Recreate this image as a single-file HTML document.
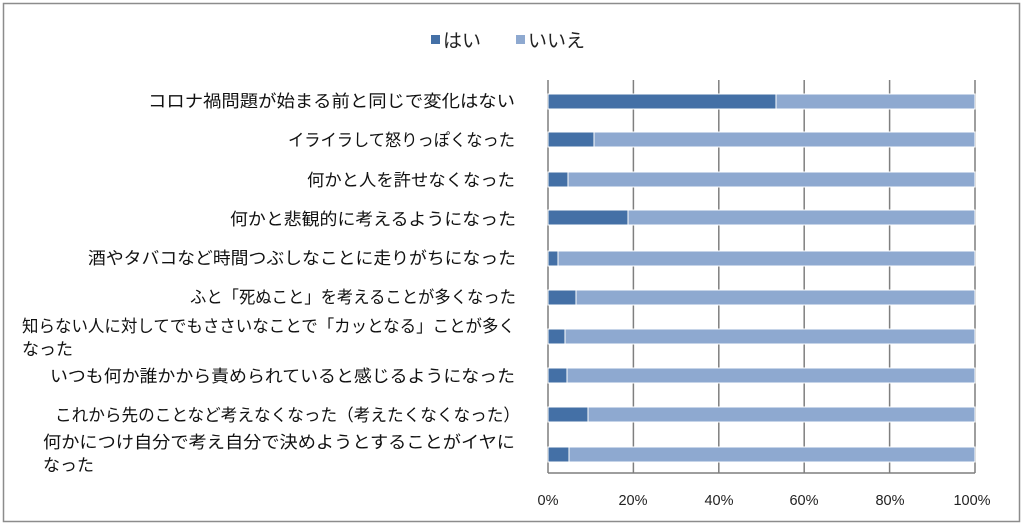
<!DOCTYPE html>
<html><head><meta charset="utf-8"><style>
body{margin:0;background:#fff;width:1024px;height:527px;overflow:hidden;font-family:"Liberation Sans","Noto Sans CJK JP",sans-serif;}
</style></head><body>
<svg width="1024" height="527" xmlns="http://www.w3.org/2000/svg" font-family="Liberation Sans, Noto Sans CJK JP, sans-serif">
<rect x="3.5" y="3.5" width="1016" height="518" fill="#fff" stroke="#8c8c8c" stroke-width="1.5"/>
<rect x="431" y="35" width="9" height="9" fill="#4470a6"/>
<text x="443" y="47" font-size="19" fill="#222">はい</text>
<rect x="516" y="35" width="9" height="9" fill="#8ea9d0"/>
<text x="528" y="47" font-size="19" fill="#222">いいえ</text>
<g stroke="#7f7f7f" stroke-width="1.5">
<line x1="548" y1="80" x2="548" y2="473"/>
<line x1="633.4" y1="80" x2="633.4" y2="473"/>
<line x1="718.8" y1="80" x2="718.8" y2="473"/>
<line x1="804.2" y1="80" x2="804.2" y2="473"/>
<line x1="889.6" y1="80" x2="889.6" y2="473"/>
<line x1="975" y1="80" x2="975" y2="473"/>
<line x1="548" y1="473" x2="975" y2="473"/>
</g>
<g font-size="17" fill="#111">
<text x="148" y="107" textLength="367" lengthAdjust="spacingAndGlyphs">コロナ禍問題が始まる前と同じで変化はない</text>
<text x="288" y="146" textLength="227" lengthAdjust="spacingAndGlyphs">イライラして怒りっぽくなった</text>
<text x="307" y="186" textLength="208" lengthAdjust="spacingAndGlyphs">何かと人を許せなくなった</text>
<text x="230" y="225" textLength="286" lengthAdjust="spacingAndGlyphs">何かと悲観的に考えるようになった</text>
<text x="88" y="264" textLength="428" lengthAdjust="spacingAndGlyphs">酒やタバコなど時間つぶしなことに走りがちになった</text>
<text x="190" y="303" textLength="326" lengthAdjust="spacingAndGlyphs">ふと「死ぬこと」を考えることが多くなった</text>
<text x="22" y="332" textLength="493" lengthAdjust="spacingAndGlyphs">知らない人に対してでもささいなことで「カッとなる」ことが多く</text>
<text x="22" y="355">なった</text>
<text x="50" y="382" textLength="465" lengthAdjust="spacingAndGlyphs">いつも何か誰かから責められていると感じるようになった</text>
<text x="55" y="421" textLength="465" lengthAdjust="spacingAndGlyphs">これから先のことなど考えなくなった（考えたくなくなった）</text>
<text x="43" y="448" textLength="472" lengthAdjust="spacingAndGlyphs">何かにつけ自分で考え自分で決めようとすることがイヤに</text>
<text x="43" y="471">なった</text>
</g>
<g font-size="14.5" fill="#222" text-anchor="middle">
<text x="548" y="505">0%</text><text x="633" y="505">20%</text><text x="719" y="505">40%</text><text x="804" y="505">60%</text><text x="890" y="505">80%</text><text x="972" y="505">100%</text>
</g>
<g stroke="#fff" stroke-width="1">
<rect x="548" y="94" width="228" height="15" fill="#4470a6"/><rect x="776" y="94" width="199" height="15" fill="#8ea9d0"/>
<rect x="548" y="132" width="46" height="15" fill="#4470a6"/><rect x="594" y="132" width="381" height="15" fill="#8ea9d0"/>
<rect x="548" y="172" width="20" height="15" fill="#4470a6"/><rect x="568" y="172" width="407" height="15" fill="#8ea9d0"/>
<rect x="548" y="210" width="80" height="15" fill="#4470a6"/><rect x="628" y="210" width="347" height="15" fill="#8ea9d0"/>
<rect x="548" y="251" width="10" height="15" fill="#4470a6"/><rect x="558" y="251" width="417" height="15" fill="#8ea9d0"/>
<rect x="548" y="290" width="28" height="15" fill="#4470a6"/><rect x="576" y="290" width="399" height="15" fill="#8ea9d0"/>
<rect x="548" y="329" width="17" height="15" fill="#4470a6"/><rect x="565" y="329" width="410" height="15" fill="#8ea9d0"/>
<rect x="548" y="368" width="19" height="15" fill="#4470a6"/><rect x="567" y="368" width="408" height="15" fill="#8ea9d0"/>
<rect x="548" y="407" width="40" height="15" fill="#4470a6"/><rect x="588" y="407" width="387" height="15" fill="#8ea9d0"/>
<rect x="548" y="447" width="21" height="15" fill="#4470a6"/><rect x="569" y="447" width="406" height="15" fill="#8ea9d0"/>
</g>
</svg>
</body></html>
